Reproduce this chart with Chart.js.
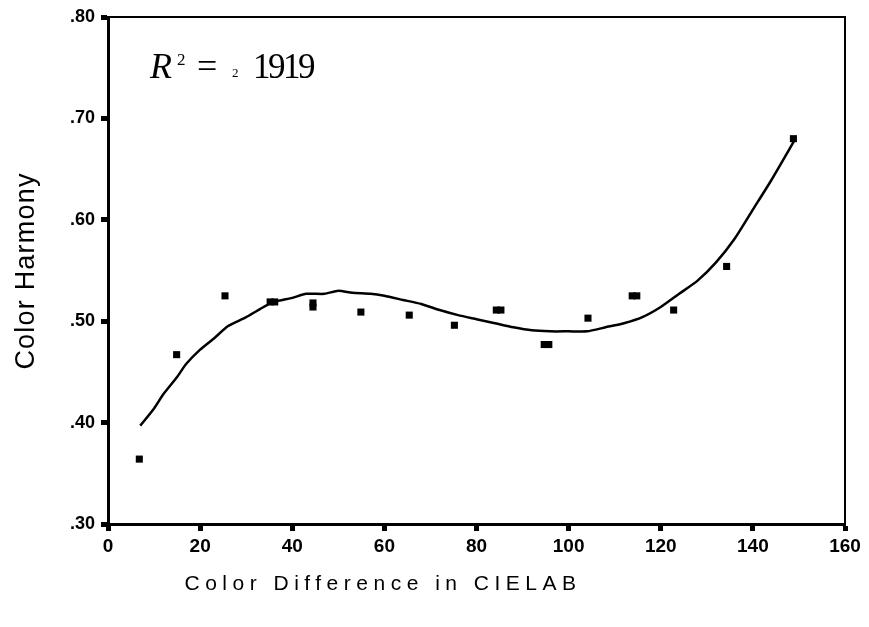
<!DOCTYPE html>
<html>
<head>
<meta charset="utf-8">
<script src="https://cdn.jsdelivr.net/npm/chart.js@4/dist/chart.umd.min.js"></script>
<style>
  html, body { margin: 0; padding: 0; background: #fff; }
  #wrap { width: 869px; height: 627px; }
</style>
</head>
<body>
<div id="wrap"><canvas id="myChart"></canvas></div>
<script>
// observed points (color difference, harmony)
const obsX = [6.8, 14.9, 25.4, 35.2, 36.2, 44.5, 44.5, 54.9, 65.4, 75.2, 84.3, 85.3, 94.7, 95.7, 104.2, 113.8, 114.8, 122.8, 134.3, 148.8];
const obsY = [0.364, 0.467, 0.525, 0.519, 0.519, 0.518, 0.514, 0.509, 0.506, 0.496, 0.511, 0.511, 0.477, 0.477, 0.503, 0.525, 0.525, 0.511, 0.554, 0.680];

// fitted curve
const fitX = [7, 10, 12, 15, 17, 20, 23, 26, 30, 33, 36, 40, 43, 47, 50, 53, 57, 60, 64, 68, 72, 76, 80, 84, 88, 92, 96, 100, 104, 108, 112, 116, 120, 124, 128, 132, 136, 140, 144, 149];
const fitY = [0.397, 0.414, 0.428, 0.445, 0.458, 0.472, 0.483, 0.495, 0.504, 0.512, 0.519, 0.523, 0.527, 0.527, 0.530, 0.528, 0.527, 0.525, 0.521, 0.517, 0.511, 0.506, 0.502, 0.498, 0.494, 0.491, 0.490, 0.490, 0.490, 0.494, 0.498, 0.504, 0.514, 0.527, 0.540, 0.558, 0.581, 0.610, 0.639, 0.678];

const xTitle = 'Color Difference in CIELAB';
const yTitle = 'Color Harmony';

// frame on top/right, axis titles and the R² note
const extras = {
  id: 'extras',
  afterDraw(chart) {
    const ctx = chart.ctx;
    const a = chart.chartArea;
    ctx.save();
    ctx.strokeStyle = '#000';
    ctx.lineWidth = 2;
    ctx.beginPath();
    ctx.moveTo(a.left, a.top);
    ctx.lineTo(a.right, a.top);
    ctx.lineTo(a.right, a.bottom);
    ctx.stroke();

    ctx.fillStyle = '#000';
    ctx.font = '21px "Liberation Sans", Arial, sans-serif';
    ctx.letterSpacing = '5.5px';
    ctx.textBaseline = 'middle';
    ctx.textAlign = 'center';
    ctx.fillText(xTitle, 383, 584);

    // y title
    ctx.save();
    ctx.font = '27px "Liberation Sans", Arial, sans-serif';
    ctx.letterSpacing = '1.2px';
    ctx.textBaseline = 'alphabetic';
    ctx.translate(34, 271);
    ctx.rotate(-Math.PI / 2);
    ctx.fillText(yTitle, 0, 0);
    ctx.restore();
    ctx.letterSpacing = '0px';

    // R² = 2 1919
    ctx.textAlign = 'left';
    ctx.textBaseline = 'alphabetic';
    ctx.font = 'italic 36px "Liberation Serif", serif';
    ctx.fillText('R', 150, 78);
    ctx.font = '17px "Liberation Serif", serif';
    ctx.fillText('2', 177, 65);
    ctx.font = '36px "Liberation Serif", serif';
    ctx.fillText('=', 197, 78);
    ctx.font = '13px "Liberation Serif", serif';
    ctx.fillText('2', 232, 77);
    ctx.font = '35px "Liberation Serif", serif';
    ctx.letterSpacing = '-2.5px';
    ctx.fillText('1919', 253, 78);
    ctx.restore();
  }
};

const ctx = document.getElementById('myChart');
new Chart(ctx, {
  type: 'scatter',
  data: {
    datasets: [
      {
        label: 'Observed',
        data: obsX.map((x, i) => ({ x: x, y: obsY[i] })),
        pointStyle: 'rect',
        pointRadius: 5,
        backgroundColor: '#000',
        borderColor: '#000',
        borderWidth: 0
      },
      {
        label: 'Cubic',
        data: fitX.map((x, i) => ({ x: x, y: fitY[i] })),
        showLine: true,
        pointRadius: 0,
        borderColor: '#000',
        borderWidth: 2.5,
        tension: 0.2
      }
    ]
  },
  options: {
    responsive: true,
    maintainAspectRatio: false,
    animation: false,
    layout: { padding: { top: 17, right: 24, left: 0, bottom: 0 } },
    plugins: {
      legend: { display: false },
      tooltip: { enabled: false }
    },
    scales: {
      x: {
        type: 'linear',
        min: 0,
        max: 160,
        afterFit(scale) { scale.height = 103; },
        ticks: {
          stepSize: 20,
          color: '#000',
          padding: 4,
          font: { family: '"Liberation Sans", Arial, sans-serif', size: 19, weight: 'bold' }
        },
        grid: { drawOnChartArea: false, tickLength: 7, tickWidth: 5, tickColor: '#000' },
        border: { display: true, color: '#000', width: 3 }
      },
      y: {
        min: 0.30,
        max: 0.80,
        afterFit(scale) { scale.width = 108; },
        ticks: {
          stepSize: 0.1,
          color: '#000',
          padding: 6,
          callback: (v) => v.toFixed(2).replace(/^0/, ''),
          font: { family: '"Liberation Sans", Arial, sans-serif', size: 18, weight: 'bold' }
        },
        grid: { drawOnChartArea: false, tickLength: 7, tickWidth: 5, tickColor: '#000' },
        border: { display: true, color: '#000', width: 3 }
      }
    }
  },
  plugins: [extras]
});
</script>
</body>
</html>
